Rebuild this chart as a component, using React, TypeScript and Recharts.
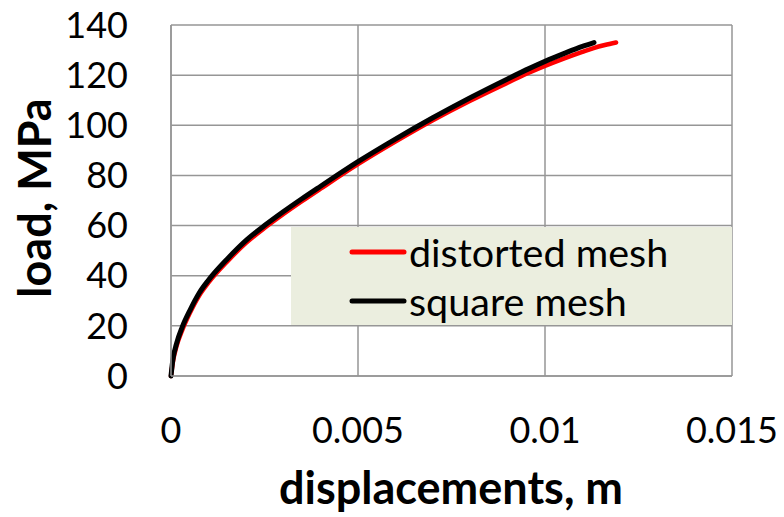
import { LineChart, Line, XAxis, YAxis, CartesianGrid } from 'recharts';

// distorted mesh (red)
const distortedDisp = [0, 0.00005, 0.00015, 0.0003, 0.0005, 0.00075, 0.001, 0.0015, 0.002, 0.0025, 0.003, 0.0035, 0.004, 0.005, 0.006, 0.007, 0.008, 0.009, 0.0096, 0.01, 0.0105, 0.011, 0.0113, 0.0116, 0.0119];
const distortedLoad = [0, 5.5, 12, 18.3, 25, 32, 37.2, 45.6, 53, 59, 64.5, 69.7, 74.7, 84.5, 93.5, 102, 109.8, 117, 121.2, 123.7, 126.6, 129.3, 130.8, 132, 133];

// square mesh (black)
const squareDisp = [0, 0.00005, 0.00015, 0.0003, 0.0005, 0.00075, 0.001, 0.0015, 0.002, 0.0025, 0.003, 0.0035, 0.004, 0.005, 0.006, 0.007, 0.008, 0.009, 0.0096, 0.01, 0.0105, 0.011, 0.01131];
const squareLoad = [0, 6.5, 13, 19.5, 26, 33, 38.2, 46.6, 54, 60, 65.5, 70.7, 75.7, 85.5, 94.5, 103, 111, 118.5, 122.8, 125.5, 128.6, 131.5, 133];

const xTicks = [0, 0.005, 0.01, 0.015];
const yTicks = [0, 20, 40, 60, 80, 100, 120, 140];

const seriesNames = ['distorted mesh', 'square mesh'];
const seriesColors = ['#ff0000', '#000000'];

const distorted = distortedDisp.map((d, i) => ({ disp: d, load: distortedLoad[i] }));
const square = squareDisp.map((d, i) => ({ disp: d, load: squareLoad[i] }));

const FONT = 'Lato, "Open Sans", sans-serif';
const GRID = '#969696';

function LegendBox() {
  return (
    <div style={{ position: 'absolute', left: 291, top: 227, width: 441, height: 98, background: '#ebeedf', fontFamily: FONT }}>
      {seriesNames.map((name, i) => (
        <div key={name} style={{ position: 'absolute', left: 56, top: 3 + i * 49, height: 44, display: 'flex', alignItems: 'center' }}>
          <svg width={62} height={10}>
            <line x1={5} y1={5} x2={57} y2={5} stroke={seriesColors[i]} strokeWidth={5} strokeLinecap="round" />
          </svg>
          <span style={{ fontSize: 39.5, color: '#000', lineHeight: '44px' }}>{name}</span>
        </div>
      ))}
    </div>
  );
}

export default function App() {
  return (
    <div style={{ position: 'absolute', left: 0, top: 0, width: 784, height: 517, background: '#fff' }}>
      <LineChart width={784} height={517} margin={{ top: 25, right: 52, bottom: 0, left: 0 }}>
        <CartesianGrid stroke={GRID} strokeWidth={1.5} horizontalValues={yTicks} verticalValues={xTicks} />
        <XAxis
          type="number"
          dataKey="disp"
          domain={[0, 0.015]}
          ticks={xTicks}
          interval={0}
          height={141}
          axisLine={{ stroke: GRID, strokeWidth: 1.5 }}
          tickLine={false}
          tickSize={0}
          tickMargin={41}
          tick={{ fill: '#000', fontSize: 36, fontFamily: FONT }}
          label={() => (
            <text x={451} y={504} textAnchor="middle" fontFamily={FONT} fontWeight={700} fontSize={45} fill="#000">
              displacements, m
            </text>
          )}
        />
        <YAxis
          type="number"
          dataKey="load"
          domain={[0, 140]}
          ticks={yTicks}
          interval={0}
          width={171}
          axisLine={{ stroke: GRID, strokeWidth: 1.5 }}
          tickLine={false}
          tickSize={0}
          tickMargin={43}
          tick={{ fill: '#000', fontSize: 36, fontFamily: FONT }}
          label={() => (
            <text x={51} y={198} transform="rotate(-90 51 198)" textAnchor="middle" fontFamily={FONT} fontWeight={700} fontSize={45} fill="#000">
              load, MPa
            </text>
          )}
        />
        <Line data={distorted} dataKey="load" name={seriesNames[0]} type="monotone" stroke={seriesColors[0]} strokeWidth={4.5} dot={false} strokeLinecap="round" isAnimationActive={false} />
        <Line data={square} dataKey="load" name={seriesNames[1]} type="monotone" stroke={seriesColors[1]} strokeWidth={5} dot={false} strokeLinecap="round" isAnimationActive={false} />
      </LineChart>
      <LegendBox />
    </div>
  );
}
